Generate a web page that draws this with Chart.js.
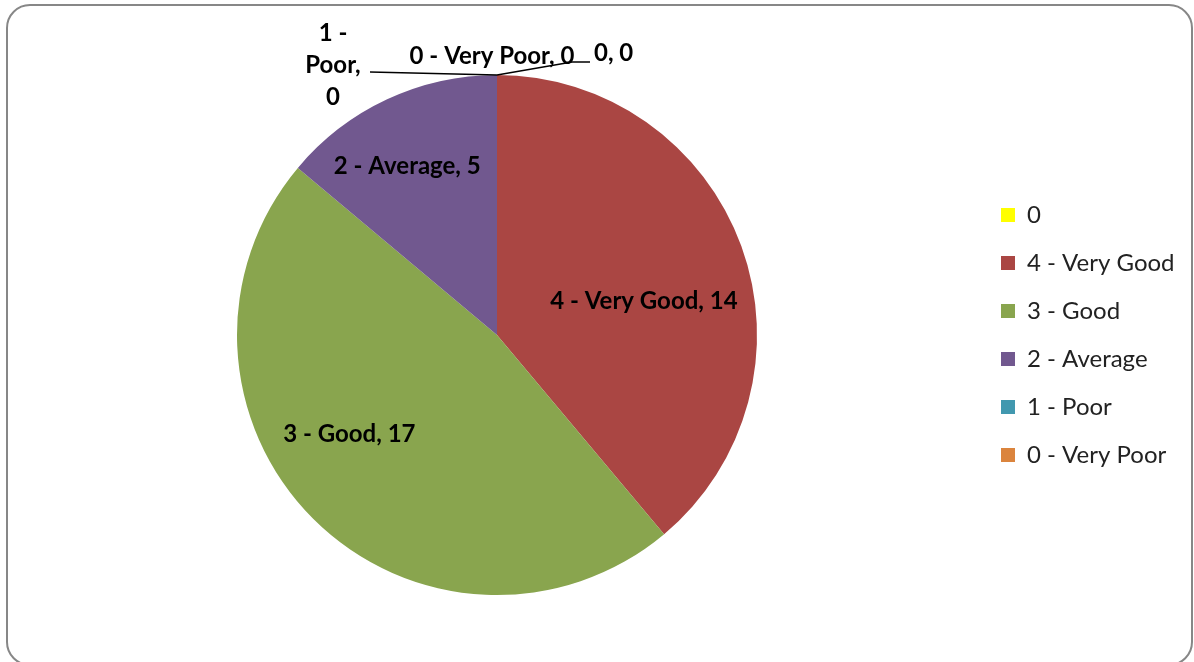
<!DOCTYPE html>
<html>
<head>
<meta charset="utf-8">
<script src="https://cdn.jsdelivr.net/npm/chart.js@4.4.1/dist/chart.umd.min.js"></script>
<style>
  html, body { margin: 0; padding: 0; background: #fff; overflow: hidden; }
  #wrap { position: relative; width: 1194px; height: 662px; overflow: hidden; }
  #frame {
    position: absolute; left: 6px; top: 4px; width: 1187px; height: 662px;
    border: 2px solid #878787; border-radius: 24px; box-sizing: border-box;
  }
  canvas { position: absolute; left: 0; top: 0; }
</style>
</head>
<body>
<div id="wrap">
  <div id="frame"></div>
  <canvas id="pieChart" width="1194" height="662"></canvas>
</div>
<script>
// data
const ratings = ['0', '4 - Very Good', '3 - Good', '2 - Average', '1 - Poor', '0 - Very Poor'];
const counts = [0, 14, 17, 5, 0, 0];
const sliceColors = ['#FFFF00', '#AA4643', '#89A54E', '#71588F', '#4198AF', '#DB843D'];

const labelFont = 'bold 24px Lato';
const legendFontSize = 24;
const legendPad = 24;

// where each slice's label sits: angle shift (deg) and fraction of radius for real slices,
// offset from the pie's top point for the empty ones
const labelPlace = [
    { dx: 97, dy: -22, align: 'left', lines: ['0, 0'], leader: [[0, 0], [75, -13], [93, -13]] },
    { shift: 7, frac: 0.58 },
    { shift: 11, frac: 0.685 },
    { shift: -3, frac: 0.735 },
    { dx: -164, dy: -42, align: 'center', lines: ['1 -', 'Poor,', '0'], leader: [[0, 0], [-127, -3]] },
    { dx: -5, dy: -19, align: 'center', lines: ['0 - Very Poor, 0'] }
];

// legend width so the pie keeps its place
const mctx = document.createElement('canvas').getContext('2d');
mctx.font = legendFontSize + 'px Lato';
const maxText = Math.max(...ratings.map(r => mctx.measureText(r).width));
const legendW = legendPad + 14 + legendFontSize / 2 + maxText + 10;
const areaRight = 977;

const sliceLabels = {
    id: 'sliceLabels',
    afterDatasetsDraw(chart) {
        const ctx = chart.ctx;
        const meta = chart.getDatasetMeta(0);
        ctx.save();
        ctx.font = labelFont;
        ctx.fillStyle = '#000';
        ctx.strokeStyle = '#000';
        ctx.lineWidth = 1.3;
        ctx.textBaseline = 'middle';
        meta.data.forEach((arc, i) => {
            const p = labelPlace[i];
            const r = arc.outerRadius;
            if (counts[i] > 0) {
                const a = (arc.startAngle + arc.endAngle) / 2 + p.shift * Math.PI / 180;
                ctx.textAlign = 'center';
                ctx.fillText(ratings[i] + ', ' + counts[i], arc.x + Math.cos(a) * r * p.frac, arc.y + Math.sin(a) * r * p.frac);
            } else {
                const tx = arc.x, ty = arc.y - r;
                if (p.leader) {
                    ctx.beginPath();
                    p.leader.forEach((pt, k) => {
                        if (k === 0) ctx.moveTo(tx + pt[0], ty + pt[1]);
                        else ctx.lineTo(tx + pt[0], ty + pt[1]);
                    });
                    ctx.stroke();
                }
                ctx.textAlign = p.align;
                p.lines.forEach((ln, k) => {
                    ctx.fillText(ln, tx + p.dx, ty + p.dy + k * 32);
                });
            }
        });
        ctx.restore();
    }
};

new Chart(document.getElementById('pieChart'), {
    type: 'pie',
    data: {
        labels: ratings,
        datasets: [{
            data: counts,
            backgroundColor: sliceColors,
            borderWidth: 0
        }]
    },
    options: {
        responsive: false,
        animation: false,
        layout: {
            padding: { top: 75, bottom: 67, left: 17, right: 1194 - areaRight - legendW }
        },
        plugins: {
            tooltip: { enabled: false },
            legend: {
                position: 'right',
                labels: {
                    boxWidth: 14,
                    boxHeight: 14,
                    padding: legendPad,
                    color: '#222',
                    font: { family: 'Lato', size: legendFontSize }
                }
            }
        }
    },
    plugins: [sliceLabels]
});
</script>
</body>
</html>
